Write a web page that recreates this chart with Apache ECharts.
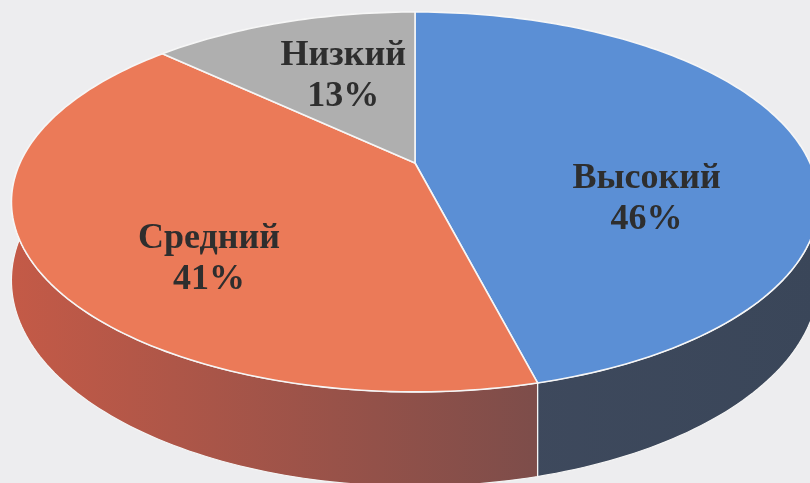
<!DOCTYPE html>
<html>
<head>
<meta charset="utf-8">
<script src="https://cdn.jsdelivr.net/npm/echarts@6/dist/echarts.min.js"></script>
<style>
  html, body { margin: 0; padding: 0; background: #ededef; }
  #chart { width: 810px; height: 483px; }
</style>
</head>
<body>
<div id="chart"></div>
<script>
const categories = ['Высокий', 'Средний', 'Низкий'];
const shares = [46, 41, 13];

const topColors = ['#5b8fd5', '#eb7a58', '#afafaf'];
// side colour at the left and at the right end of each slice's wall
const sideColors = [['#3f4a5e', '#3a4659'], ['#c45a47', '#7d4d4a'], ['#8c8c8c', '#8c8c8c']];
// label: fraction of the radius along the mid angle, vertical shift in px
const labelPlace = [[0.6, 50], [0.57, 40], [0.5, -10]];

// projected disc (perspective): centre, half axes, perspective factor, wall depth
const CX = 415, CY = 163, A = 395, B = 182, K = 0.205, DEPTH = 75;

function proj(theta, r, drop) {
  const u = r * Math.sin(theta), v = -r * Math.cos(theta);
  const w = 1 - K * v;
  return [CX + A * u / w, CY + (B * v + drop) / w];
}

const total = shares.reduce((s, v) => s + v, 0);
const starts = [];
shares.reduce((acc, v, i) => { starts[i] = acc; return acc + v; }, 0);

const chart = echarts.init(document.getElementById('chart'));

function renderItem(params, api) {
  const i = params.dataIndex;
  const a = starts[i] / total * Math.PI * 2;
  const b = (starts[i] + api.value(1)) / total * Math.PI * 2;
  const steps = Math.max(8, Math.ceil((b - a) / 0.02));
  const rimTop = [], rimBot = [];
  for (let s = 0; s <= steps; s++) {
    const t = a + (b - a) * s / steps;
    rimTop.push(proj(t, 1, 0));
    rimBot.push(proj(t, 1, DEPTH));
  }
  const side = rimTop.concat(rimBot.slice().reverse());
  const xs = side.map(p => p[0]);
  const x0 = Math.min.apply(null, xs), x1 = Math.max.apply(null, xs);
  const top = [proj(0, 0, 0)].concat(rimTop);

  const mid = (a + b) / 2;
  const lp = proj(mid, labelPlace[i][0], 0);

  return {
    type: 'group',
    children: [
      {
        type: 'polygon',
        z2: 1,
        shape: { points: side },
        style: {
          fill: new echarts.graphic.LinearGradient(x0, 0, x1, 0, [
            { offset: 0, color: sideColors[i][0] },
            { offset: 1, color: sideColors[i][1] }
          ], true),
          stroke: '#f4f4f4',
          lineWidth: 1.2,
          lineJoin: 'round'
        }
      },
      {
        type: 'polygon',
        z2: 10,
        shape: { points: top },
        style: { fill: topColors[i], stroke: '#f6f6f6', lineWidth: 1.6, lineJoin: 'round' }
      },
      {
        type: 'text',
        z2: 20,
        style: {
          text: categories[i] + '\n' + api.value(1) + '%',
          x: lp[0],
          y: lp[1] + labelPlace[i][1],
          align: 'center',
          verticalAlign: 'middle',
          fill: '#2e2e2e',
          fontSize: 36,
          fontWeight: 'bold',
          fontFamily: '"Times New Roman", "Liberation Serif", serif',
          lineHeight: 41
        }
      }
    ]
  };
}

chart.setOption({
  backgroundColor: '#ededef',
  animation: false,
  series: [{
    type: 'custom',
    coordinateSystem: 'none',
    renderItem: renderItem,
    data: shares.map((v, i) => [i, v])
  }]
});
</script>
</body>
</html>
